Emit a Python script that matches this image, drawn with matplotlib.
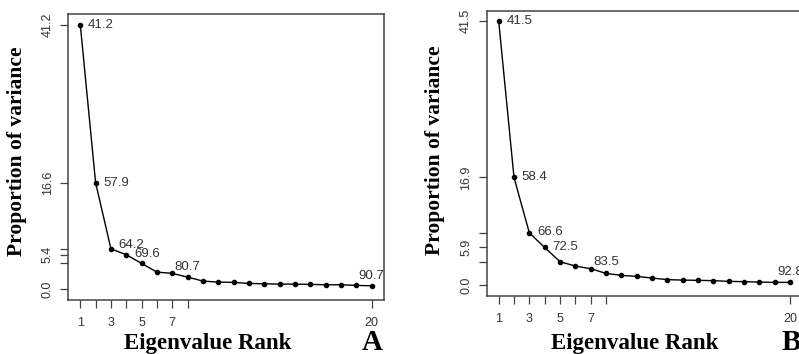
import matplotlib
matplotlib.use("Agg")
import matplotlib.pyplot as plt

# ---------------- data ----------------
rank = list(range(1, 21))

# Panel A: proportion of variance per eigenvalue (%)
var_a = [41.2, 16.6, 6.3, 5.4, 4.04, 2.69, 2.49, 1.91, 1.29, 1.14,
         1.09, 0.93, 0.87, 0.82, 0.82, 0.78, 0.72, 0.72, 0.62, 0.56]
# Panel B
var_b = [41.5, 16.9, 8.2, 5.9, 3.67, 2.98, 2.57, 1.83, 1.52, 1.36,
         1.10, 0.85, 0.78, 0.74, 0.69, 0.58, 0.53, 0.47, 0.42, 0.42]

# cumulative-percentage annotations (rank, text)
ann_rank_a = [1, 2, 3, 4, 8, 20]
ann_text_a = ["41.2", "57.9", "64.2", "69.6", "80.7", "90.7"]
ann_rank_b = [1, 2, 3, 4, 8, 20]
ann_text_b = ["41.5", "58.4", "66.6", "72.5", "83.5", "92.8"]

# axis ticks
xticks = [1, 2, 3, 4, 5, 6, 7, 8, 20]
xticklabels = ["1", "", "3", "", "5", "", "7", "", "20"]
yticks_a = [0.0, 4.04, 5.4, 6.3, 16.6, 41.2]
yticklabels_a = ["0.0", "", "5.4", "", "16.6", "41.2"]
yticks_b = [0.0, 3.67, 5.9, 8.2, 16.9, 41.5]
yticklabels_b = ["0.0", "", "5.9", "", "16.9", "41.5"]

xlabel = "Eigenvalue Rank"
ylabel = "Proportion of variance"
panel_a = "A"
panel_b = "B"

# ---------------- figure ----------------
W, H = 799, 354
fig = plt.figure(figsize=(W / 100, H / 100), dpi=100)

sans = ["Liberation Sans", "DejaVu Sans"]
serif = ["Liberation Serif", "DejaVu Serif"]
tick_col = "#333333"
frame_col = "#444444"


def px_axes(left, top, right, bottom):
    return [left / W, 1 - bottom / H, (right - left) / W, (bottom - top) / H]


def draw(ax, vals, yticks, ylabs, ann_r, ann_t, ylim, styles):
    ax.plot(rank, vals, color="black", lw=1.0, marker="o", ms=3.0,
            mfc="black", mec="black", zorder=3)
    ax.set_xlim(0.22, 20.82)
    ax.set_ylim(*ylim)
    ax.set_xticks(xticks)
    ax.set_xticklabels(xticklabels, fontfamily=sans, fontsize=9, color=tick_col)
    ax.set_yticks(yticks)
    ax.set_yticklabels(ylabs, fontfamily=sans, fontsize=9, color=tick_col,
                       rotation=90, va="center")
    ax.tick_params(axis="x", length=6, width=0.9, color=frame_col, pad=6.5)
    ax.tick_params(axis="y", length=6, width=0.9, color=frame_col, pad=4.5)
    for s in ax.spines.values():
        s.set_color(frame_col)
        s.set_linewidth(1.1)
    for r, t, (ha, dx, dy) in zip(ann_r, ann_t, styles):
        ax.annotate(t, (r, vals[r - 1]), xytext=(dx, dy),
                    textcoords="offset points", ha=ha, va="center",
                    fontfamily=sans, fontsize=9.5, color=tick_col)


styles_a = [("left", 5.5, 0), ("left", 5.5, 0), ("left", 5.5, 2.6),
            ("left", 5.5, 0.7), ("center", 0, 7.5), ("center", 0, 7.2)]
styles_b = [("left", 5.5, 0), ("left", 5.5, 0), ("left", 5.5, 0.7),
            ("left", 5.5, 0.7), ("center", 0, 8), ("center", 0, 7.5)]

ax_a = fig.add_axes(px_axes(68.3, 14, 384.3, 300))
draw(ax_a, var_a, yticks_a, yticklabels_a, ann_rank_a, ann_text_a,
     (-1.65, 42.85), styles_a)

ax_b = fig.add_axes(px_axes(486.7, 10.7, 802.7, 296))
draw(ax_b, var_b, yticks_b, yticklabels_b, ann_rank_b, ann_text_b,
     (-1.72, 43.1), styles_b)

# axis labels and panel letters (pixel positions)
def ftext(x, y, s, **kw):
    fig.text(x / W, 1 - y / H, s, **kw)

lab_kw = dict(fontfamily=serif, fontweight="bold", color="black")
ftext(17.5, 151, ylabel, rotation=90, ha="center", va="center", fontsize=15.5, **lab_kw)
ftext(435, 150, ylabel, rotation=90, ha="center", va="center", fontsize=15.5, **lab_kw)
ftext(208, 349, xlabel, ha="center", va="baseline", fontsize=16.5, **lab_kw)
ftext(635, 349, xlabel, ha="center", va="baseline", fontsize=16.5, **lab_kw)
ftext(372.5, 349.5, panel_a, ha="center", va="baseline", fontsize=21, **lab_kw)
ftext(791, 349.5, panel_b, ha="center", va="baseline", fontsize=21, **lab_kw)

fig.savefig("out.png", dpi=100)
